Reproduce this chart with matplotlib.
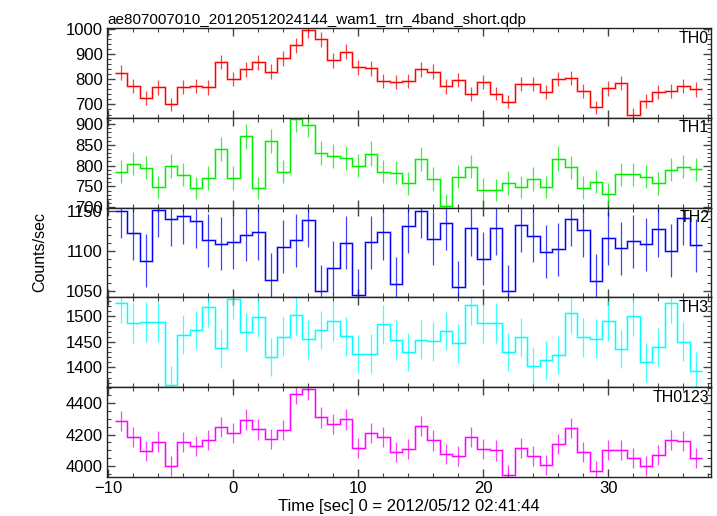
import numpy as np
import matplotlib
matplotlib.use("Agg")
import matplotlib.pyplot as plt
from matplotlib.ticker import MultipleLocator

plt.rcParams['font.family'] = ['Liberation Sans', 'DejaVu Sans']

time = list(range(-9, 38))

th0 = [826, 774, 724, 767, 700, 770, 772, 767, 867, 800, 838, 866, 830, 882, 933, 996,
       957, 875, 908, 846, 842, 793, 788, 793, 839, 829, 771, 795, 741, 788, 743, 711,
       780, 780, 749, 799, 803, 754, 688, 763, 784, 658, 713, 749, 753, 774, 759]
th1 = [785, 805, 795, 748, 799, 778, 746, 770, 839, 770, 871, 746, 859, 785, 912, 898,
       830, 823, 819, 800, 829, 785, 783, 757, 815, 768, 704, 773, 797, 742, 741, 758,
       748, 768, 748, 817, 796, 747, 761, 732, 779, 779, 773, 757, 790, 797, 791]
th2 = [1150, 1122, 1088, 1151, 1140, 1143, 1137, 1113, 1109, 1111, 1120, 1123, 1064, 1105,
       1113, 1139, 1050, 1079, 1110, 1045, 1111, 1123, 1059, 1131, 1150, 1115, 1135, 1055,
       1128, 1090, 1129, 1050, 1132, 1119, 1099, 1102, 1140, 1126, 1063, 1116, 1103, 1112,
       1108, 1127, 1100, 1141, 1107]
th3 = [1526, 1487, 1489, 1489, 1365, 1464, 1473, 1518, 1437, 1533, 1469, 1499, 1420, 1460,
       1503, 1455, 1473, 1490, 1461, 1426, 1427, 1484, 1454, 1430, 1454, 1451, 1471, 1447,
       1522, 1486, 1487, 1430, 1459, 1403, 1414, 1424, 1507, 1459, 1456, 1491, 1436, 1501,
       1410, 1440, 1526, 1450, 1393]
th0123 = [4288, 4186, 4095, 4156, 4002, 4154, 4127, 4167, 4250, 4212, 4294, 4233, 4171, 4231,
          4459, 4489, 4309, 4269, 4298, 4116, 4210, 4184, 4087, 4110, 4256, 4163, 4078, 4066,
          4186, 4106, 4099, 3943, 4116, 4066, 4008, 4142, 4243, 4089, 3968, 4102, 4102, 4051,
          4000, 4070, 4167, 4161, 4049]

err0 = [29, 28, 27, 28, 26, 28, 28, 28, 29, 28, 29, 29, 29, 30, 31, 32,
        31, 30, 30, 29, 29, 28, 28, 28, 29, 29, 28, 28, 27, 28, 27, 27,
        28, 28, 27, 28, 28, 27, 26, 28, 28, 26, 27, 27, 27, 28, 28]
err1 = [28, 28, 28, 27, 28, 28, 27, 28, 29, 28, 30, 27, 29, 28, 30, 30,
        29, 29, 29, 28, 29, 28, 28, 28, 29, 28, 27, 28, 28, 27, 27, 28,
        27, 28, 27, 29, 28, 27, 28, 27, 28, 28, 28, 28, 28, 28, 28]
err2 = [34, 33, 33, 34, 34, 34, 34, 33, 33, 33, 33, 34, 33, 33,
        33, 34, 32, 33, 33, 32, 33, 34, 33, 34, 34, 33, 34, 32,
        34, 33, 34, 32, 34, 33, 33, 33, 34, 34, 33, 33, 33, 33,
        33, 34, 33, 34, 33]
err3 = [39, 39, 39, 39, 37, 38, 38, 39, 38, 39, 38, 39, 38, 38,
        39, 38, 38, 39, 38, 38, 38, 39, 38, 38, 38, 38, 38, 38,
        39, 39, 39, 38, 38, 37, 38, 38, 39, 38, 38, 39, 38, 39,
        38, 38, 39, 38, 37]
err0123 = [65, 65, 64, 64, 63, 64, 64, 65, 65, 65, 66, 65, 65, 65,
           67, 67, 66, 65, 66, 64, 65, 65, 64, 64, 65, 65, 64, 64,
           65, 64, 64, 63, 64, 64, 63, 64, 65, 64, 63, 64, 64, 64,
           63, 64, 65, 65, 64]

labels = ["TH0", "TH1", "TH2", "TH3", "TH0123"]
series = [th0, th1, th2, th3, th0123]
errors = [err0, err1, err2, err3, err0123]
colors = ["#ff0000", "#00ee00", "#0000ff", "#00ffff", "#ff00ff"]
ylims = [(647, 1002), (699, 915), (1042, 1154), (1361, 1537), (3930, 4502)]
majors = [100, 50, 50, 50, 200]
minors = [20, 10, 10, 10, 50]

fig = plt.figure(figsize=(7.17, 5.16), dpi=100)
W, H = 717, 516
left, right = 107 / W, 711 / W
top_px, bot_px = 28, 477
ph = (bot_px - top_px) / 5

t = np.array(time, dtype=float)
edges = np.concatenate([t - 0.5, [t[-1] + 0.5]])

fs = 12

axes = []
for i in range(5):
    y0 = 1 - (top_px + (i + 1) * ph) / H
    ax = fig.add_axes([left, y0, right - left, ph / H])
    axes.append(ax)
    vals = np.array(series[i], dtype=float)
    err = np.array(errors[i], dtype=float)
    c = colors[i]
    ax.stairs(vals, edges, baseline=None, color=c, lw=1.8, alpha=0.3)
    ax.stairs(vals, edges, baseline=None, color=c, lw=0.8)
    ax.errorbar(t, vals, yerr=err, fmt='none', ecolor=c, elinewidth=0.9, alpha=0.75)
    ax.set_xlim(-10.1, 38.2)
    ax.set_ylim(*ylims[i])
    ax.xaxis.set_major_locator(MultipleLocator(10))
    ax.xaxis.set_minor_locator(MultipleLocator(2))
    ax.yaxis.set_major_locator(MultipleLocator(majors[i]))
    ax.yaxis.set_minor_locator(MultipleLocator(minors[i]))
    ax.tick_params(which='both', direction='in', top=True, right=True, labelsize=fs,
                   color='#444444', pad=3)
    ax.tick_params(which='major', length=6, width=1.0)
    ax.tick_params(which='minor', length=3, width=0.8)
    for s in ax.spines.values():
        s.set_linewidth(1.0)
        s.set_color('#222222')
    if i < 4:
        ax.tick_params(labelbottom=False)
    ax.text(0.997, 0.97, labels[i], transform=ax.transAxes, ha='right', va='top',
            fontsize=11.5)

axes[0].set_title("ae807007010_20120512024144_wam1_trn_4band_short.qdp",
                  loc='left', fontsize=11, pad=3)
axes[-1].set_xlabel("Time [sec] 0 = 2012/05/12 02:41:44", fontsize=fs, labelpad=2)
fig.text(0.056, 1 - ((top_px + bot_px) / 2) / H, "Counts/sec", rotation=90,
         ha='center', va='center', fontsize=11.5)

fig.savefig("out.png", dpi=100)
